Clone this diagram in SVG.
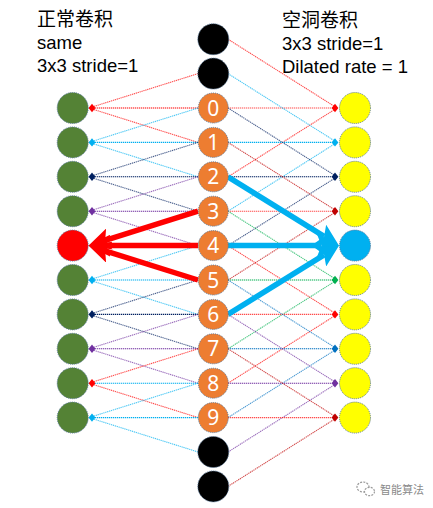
<svg xmlns="http://www.w3.org/2000/svg" xmlns:xlink="http://www.w3.org/1999/xlink" width="433" height="508" viewBox="0 0 433 508">
<style>
.t{font-family:"Liberation Sans","Noto Sans CJK SC",sans-serif;font-size:18.5px;fill:#000}
.cj{font-family:"Noto Sans CJK SC",sans-serif;font-size:19px;fill:#000}
.num{font-family:"Noto Sans","Liberation Sans",sans-serif;font-size:21px;fill:#fff;text-anchor:middle}
.nd{stroke:#5a7a9c;stroke-width:1;stroke-dasharray:1 1}
.g{fill:#548235}.o{fill:#ED7D31}.y{fill:#FFFF00}.k{fill:#000}
.ln{fill:none;stroke-width:1.1;stroke-dasharray:1.3 0.7}
.h{opacity:1}.d{opacity:0.7}
.r{stroke:#FF0000}.lb{stroke:#00B0F0}.nv{stroke:#002060}.pu{stroke:#7030A0}.dr{stroke:#C00000}.gr{stroke:#00B050}.bl{stroke:#0070C0}
.thr{stroke:#FF0000;stroke-width:5.5;fill:none}
.thb{stroke:#00B0F0;stroke-width:5.5;fill:none}
.wm{font-family:"Noto Sans CJK SC",sans-serif;font-size:11px;fill:#8a8a8a}
</style>
<defs>
<path id="dm" d="M-3.4,0 L0,-4.2 L3.4,0 L0,4.2 Z"/>
<marker id="ar" viewBox="0 0 4 4" markerWidth="4" markerHeight="4" refX="0.8" refY="2" orient="auto" markerUnits="strokeWidth">
<path d="M0,0 L4,2 L0,4 L0.8,2 Z" fill="#FF0000"/>
</marker>
<marker id="ab" viewBox="0 0 4 4" markerWidth="4" markerHeight="4" refX="0.8" refY="2" orient="auto" markerUnits="strokeWidth">
<path d="M0,0 L4,2 L0,4 L0.8,2 Z" fill="#00B0F0"/>
</marker>
</defs>

<g id="titles">
<text class="cj" x="37" y="26">正常卷积</text>
<text class="t" x="37" y="49">same</text>
<text class="t" x="37" y="72">3x3 stride=1</text>
<text class="cj" x="282" y="27">空洞卷积</text>
<text class="t" x="282" y="50">3x3 stride=1</text>
<text class="t" x="282" y="72.5">Dilated rate = 1</text>
</g>

<g id="connectors">
<!-- left side: normal conv -->
<line class="ln d r" x1="198" y1="73.6" x2="89" y2="108"/>
<line class="ln h r" x1="198" y1="108" x2="89" y2="108"/>
<line class="ln d r" x1="198" y1="142.4" x2="89" y2="108"/>
<line class="ln d lb" x1="198" y1="108" x2="89" y2="142.4"/>
<line class="ln h lb" x1="198" y1="142.4" x2="89" y2="142.4"/>
<line class="ln d lb" x1="198" y1="176.8" x2="89" y2="142.4"/>
<line class="ln d nv" x1="198" y1="142.4" x2="89" y2="176.8"/>
<line class="ln h nv" x1="198" y1="176.8" x2="89" y2="176.8"/>
<line class="ln d nv" x1="198" y1="211.2" x2="89" y2="176.8"/>
<line class="ln d pu" x1="198" y1="176.8" x2="89" y2="211.2"/>
<line class="ln h pu" x1="198" y1="211.2" x2="89" y2="211.2"/>
<line class="ln d pu" x1="198" y1="245.6" x2="89" y2="211.2"/>
<line class="ln d lb" x1="198" y1="245.6" x2="89" y2="280"/>
<line class="ln h lb" x1="198" y1="280" x2="89" y2="280"/>
<line class="ln d lb" x1="198" y1="314.4" x2="89" y2="280"/>
<line class="ln d nv" x1="198" y1="280" x2="89" y2="314.4"/>
<line class="ln h nv" x1="198" y1="314.4" x2="89" y2="314.4"/>
<line class="ln d nv" x1="198" y1="348.8" x2="89" y2="314.4"/>
<line class="ln d pu" x1="198" y1="314.4" x2="89" y2="348.8"/>
<line class="ln h pu" x1="198" y1="348.8" x2="89" y2="348.8"/>
<line class="ln d pu" x1="198" y1="383.2" x2="89" y2="348.8"/>
<line class="ln d r" x1="198" y1="348.8" x2="89" y2="383.2"/>
<line class="ln h lb" x1="198" y1="383.2" x2="89" y2="383.2"/>
<line class="ln d r" x1="198" y1="417.6" x2="89" y2="383.2"/>
<line class="ln d lb" x1="198" y1="383.2" x2="89" y2="417.6"/>
<line class="ln h lb" x1="198" y1="417.6" x2="89" y2="417.6"/>
<line class="ln d lb" x1="198" y1="452" x2="89" y2="417.6"/>
<!-- right side: dilated conv -->
<line class="ln d r" x1="228" y1="39.2" x2="337" y2="108"/>
<line class="ln d r" x1="228" y1="108" x2="337" y2="108"/>
<line class="ln d r" x1="228" y1="176.8" x2="337" y2="108"/>
<line class="ln d lb" x1="228" y1="73.6" x2="337" y2="142.4"/>
<line class="ln h lb" x1="228" y1="142.4" x2="337" y2="142.4"/>
<line class="ln d lb" x1="228" y1="211.2" x2="337" y2="142.4"/>
<line class="ln d nv" x1="228" y1="108" x2="337" y2="176.8"/>
<line class="ln h nv" x1="228" y1="176.8" x2="337" y2="176.8"/>
<line class="ln d nv" x1="228" y1="245.6" x2="337" y2="176.8"/>
<line class="ln d dr" x1="228" y1="142.4" x2="337" y2="211.2"/>
<line class="ln d r" x1="228" y1="211.2" x2="337" y2="211.2"/>
<line class="ln d dr" x1="228" y1="280" x2="337" y2="211.2"/>
<line class="ln d gr" x1="228" y1="211.2" x2="337" y2="280"/>
<line class="ln h gr" x1="228" y1="280" x2="337" y2="280"/>
<line class="ln d gr" x1="228" y1="348.8" x2="337" y2="280"/>
<line class="ln d r" x1="228" y1="245.6" x2="337" y2="314.4"/>
<line class="ln d r" x1="228" y1="314.4" x2="337" y2="314.4"/>
<line class="ln d r" x1="228" y1="383.2" x2="337" y2="314.4"/>
<line class="ln d bl" x1="228" y1="280" x2="337" y2="348.8"/>
<line class="ln h bl" x1="228" y1="348.8" x2="337" y2="348.8"/>
<line class="ln d bl" x1="228" y1="417.6" x2="337" y2="348.8"/>
<line class="ln d pu" x1="228" y1="314.4" x2="337" y2="383.2"/>
<line class="ln h pu" x1="228" y1="383.2" x2="337" y2="383.2"/>
<line class="ln d pu" x1="228" y1="452" x2="337" y2="383.2"/>
<line class="ln d dr" x1="228" y1="348.8" x2="337" y2="417.6"/>
<line class="ln d r" x1="228" y1="417.6" x2="337" y2="417.6"/>
<line class="ln d dr" x1="228" y1="486.4" x2="337" y2="417.6"/>
<!-- small arrowheads -->
<use xlink:href="#dm" x="92" y="108" fill="#FF0000"/>
<use xlink:href="#dm" x="92" y="142.4" fill="#00B0F0"/>
<use xlink:href="#dm" x="92" y="176.8" fill="#002060"/>
<use xlink:href="#dm" x="92" y="211.2" fill="#7030A0"/>
<use xlink:href="#dm" x="92" y="280" fill="#00B0F0"/>
<use xlink:href="#dm" x="92" y="314.4" fill="#002060"/>
<use xlink:href="#dm" x="92" y="348.8" fill="#7030A0"/>
<use xlink:href="#dm" x="92" y="383.2" fill="#FF0000"/>
<use xlink:href="#dm" x="92" y="417.6" fill="#00B0F0"/>
<use xlink:href="#dm" x="335" y="108" fill="#FF0000"/>
<use xlink:href="#dm" x="335" y="142.4" fill="#00B0F0"/>
<use xlink:href="#dm" x="335" y="176.8" fill="#002060"/>
<use xlink:href="#dm" x="335" y="211.2" fill="#C00000"/>
<use xlink:href="#dm" x="335" y="280" fill="#00B050"/>
<use xlink:href="#dm" x="335" y="314.4" fill="#FF0000"/>
<use xlink:href="#dm" x="335" y="348.8" fill="#0070C0"/>
<use xlink:href="#dm" x="335" y="383.2" fill="#7030A0"/>
<use xlink:href="#dm" x="335" y="417.6" fill="#C00000"/>
<!-- thick arrows -->
<line class="thr" x1="198" y1="211.2" x2="105.2" y2="240.4" marker-end="url(#ar)"/>
<line class="thr" x1="198" y1="245.6" x2="106" y2="245.6" marker-end="url(#ar)"/>
<line class="thr" x1="198" y1="280" x2="105.2" y2="250.8" marker-end="url(#ar)"/>
<line class="thb" x1="228" y1="176.8" x2="324.1" y2="236.4" marker-end="url(#ab)"/>
<line class="thb" x1="228" y1="245.6" x2="321.5" y2="245.6" marker-end="url(#ab)"/>
<line class="thb" x1="228" y1="314.4" x2="324.1" y2="254.8" marker-end="url(#ab)"/>
</g>

<g id="left-nodes">
<circle id="L0" class="nd g" cx="72.7" cy="108" r="15.5"/>
<circle id="L1" class="nd g" cx="72.7" cy="142.4" r="15.5"/>
<circle id="L2" class="nd g" cx="72.7" cy="176.8" r="15.5"/>
<circle id="L3" class="nd g" cx="72.7" cy="211.2" r="15.5"/>
<circle id="L4" class="nd" fill="#FF0000" cx="72.7" cy="245.6" r="15.5"/>
<circle id="L5" class="nd g" cx="72.7" cy="280" r="15.5"/>
<circle id="L6" class="nd g" cx="72.7" cy="314.4" r="15.5"/>
<circle id="L7" class="nd g" cx="72.7" cy="348.8" r="15.5"/>
<circle id="L8" class="nd g" cx="72.7" cy="383.2" r="15.5"/>
<circle id="L9" class="nd g" cx="72.7" cy="417.6" r="15.5"/>
</g>

<g id="middle-nodes">
<circle id="Mt2" class="nd k" cx="213.3" cy="39.2" r="15.5"/>
<circle id="Mt1" class="nd k" cx="213.3" cy="73.6" r="15.5"/>
<g id="M0"><circle class="nd o" cx="213.3" cy="108" r="15"/><text class="num" x="213.3" y="115.5">0</text></g>
<g id="M1"><circle class="nd o" cx="213.3" cy="142.4" r="15"/><text class="num" x="213.3" y="149.9">1</text></g>
<g id="M2"><circle class="nd o" cx="213.3" cy="176.8" r="15"/><text class="num" x="213.3" y="184.3">2</text></g>
<g id="M3"><circle class="nd o" cx="213.3" cy="211.2" r="15"/><text class="num" x="213.3" y="218.7">3</text></g>
<g id="M4"><circle class="nd o" cx="213.3" cy="245.6" r="15"/><text class="num" x="213.3" y="253.1">4</text></g>
<g id="M5"><circle class="nd o" cx="213.3" cy="280" r="15"/><text class="num" x="213.3" y="287.5">5</text></g>
<g id="M6"><circle class="nd o" cx="213.3" cy="314.4" r="15"/><text class="num" x="213.3" y="321.9">6</text></g>
<g id="M7"><circle class="nd o" cx="213.3" cy="348.8" r="15"/><text class="num" x="213.3" y="356.3">7</text></g>
<g id="M8"><circle class="nd o" cx="213.3" cy="383.2" r="15"/><text class="num" x="213.3" y="390.7">8</text></g>
<g id="M9"><circle class="nd o" cx="213.3" cy="417.6" r="15"/><text class="num" x="213.3" y="425.1">9</text></g>
<circle id="Mb1" class="nd k" cx="213.3" cy="452" r="15.5"/>
<circle id="Mb2" class="nd k" cx="213.3" cy="486.4" r="15.5"/>
</g>

<g id="right-nodes">
<circle id="R0" class="nd y" cx="355" cy="108" r="15.5"/>
<circle id="R1" class="nd y" cx="355" cy="142.4" r="15.5"/>
<circle id="R2" class="nd y" cx="355" cy="176.8" r="15.5"/>
<circle id="R3" class="nd y" cx="355" cy="211.2" r="15.5"/>
<circle id="R4" class="nd" fill="#00B0F0" cx="355" cy="245.6" r="15.5"/>
<circle id="R5" class="nd y" cx="355" cy="280" r="15.5"/>
<circle id="R6" class="nd y" cx="355" cy="314.4" r="15.5"/>
<circle id="R7" class="nd y" cx="355" cy="348.8" r="15.5"/>
<circle id="R8" class="nd y" cx="355" cy="383.2" r="15.5"/>
<circle id="R9" class="nd y" cx="355" cy="417.6" r="15.5"/>
</g>

<g id="watermark">
<ellipse cx="363" cy="487" rx="6" ry="5" fill="none" stroke="#9a9a9a" stroke-width="1.2" stroke-dasharray="2 1.2"/>
<ellipse cx="369.5" cy="491.5" rx="5" ry="4.2" fill="#fff" stroke="#9a9a9a" stroke-width="1.2" stroke-dasharray="2 1.2"/>
<text class="wm" x="380" y="494">智能算法</text>
</g>
</svg>
